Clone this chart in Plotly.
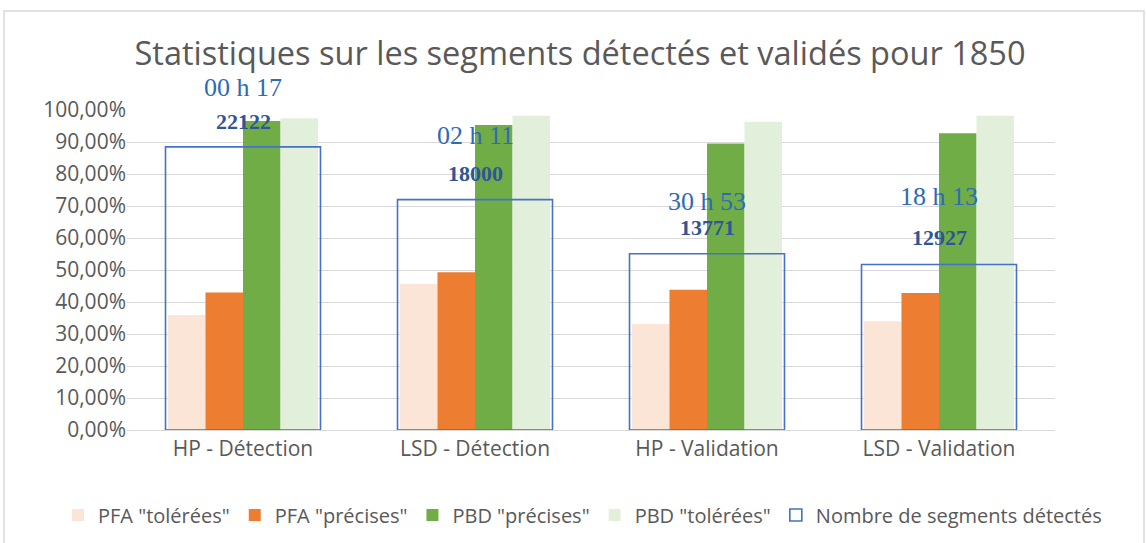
import plotly.graph_objects as go

categories = ["HP - Détection", "LSD - Détection", "HP - Validation", "LSD - Validation"]
pfa_tolerees = [0.359, 0.457, 0.331, 0.340]
pfa_precises = [0.430, 0.493, 0.438, 0.428]
pbd_precises = [0.966, 0.953, 0.895, 0.927]
pbd_tolerees = [0.974, 0.982, 0.963, 0.982]
nb_segments = [22122, 18000, 13771, 12927]
durees = ["00 h 17", "02 h 11", "30 h 53", "18 h 13"]

# label offsets (pixels above the box top)
count_shift = [25, 26, 26, 27]
time_shift = [59, 64, 52, 68]

W, H = 1146, 543
L, R, T, B = 127, 91, 110, 113
PW, PH = W - L - R, H - T - B

fig = go.Figure()
series = [
    ('PFA "tolérées"', pfa_tolerees, "#FBE5D6"),
    ('PFA "précises"', pfa_precises, "#ED7D31"),
    ('PBD "précises"', pbd_precises, "#70AD47"),
    ('PBD "tolérées"', pbd_tolerees, "#E2EFDA"),
]
for name, vals, col in series:
    fig.add_trace(go.Bar(x=categories, y=vals, name=name, marker_color=col,
                         marker_line_width=0, yaxis="y"))

fig.add_trace(go.Bar(x=categories, y=nb_segments, name="Nombre de segments détectés",
                     marker=dict(color="rgba(0,0,0,0)", line=dict(color="#4472C4", width=1.6)),
                     yaxis="y2", width=0.668, offset=-0.334))

annotations = []
for c, n, d, cs, ts in zip(categories, nb_segments, durees, count_shift, time_shift):
    annotations.append(dict(x=c, y=n, xref="x", yref="y2", yshift=cs, text="<b>%d</b>" % n,
                            showarrow=False, yanchor="middle",
                            font=dict(family="Liberation Serif", size=22, color="#2F5597")))
    annotations.append(dict(x=c, y=n, xref="x", yref="y2", yshift=ts, text=d,
                            showarrow=False, yanchor="middle",
                            font=dict(family="Liberation Serif", size=26, color="#2E6BB5")))

fig.update_layout(
    width=W, height=H,
    margin=dict(l=L, r=R, t=T, b=B, autoexpand=False),
    paper_bgcolor="white", plot_bgcolor="white",
    separators=", ",
    barmode="group", bargap=0.353, bargroupgap=0,
    title=dict(text="Statistiques sur les segments détectés et validés pour 1850",
               x=580 / W, xanchor="center", xref="container", y=1 - 54 / H, yanchor="middle",
               yref="container",
               font=dict(family="Open Sans", size=32.5, color="#595959")),
    font=dict(family="Open Sans", color="#595959"),
    xaxis=dict(showgrid=False, showline=True, linecolor="#D9D9D9", linewidth=1,
               tickfont=dict(size=21, color="#595959"), ticks=""),
    yaxis=dict(range=[0, 1], dtick=0.1, tickformat=".2%", showgrid=True,
               gridcolor="#D9D9D9", gridwidth=1, zeroline=False,
               tickfont=dict(size=21, color="#595959"), ticks=""),
    yaxis2=dict(range=[0, 25000], overlaying="y", side="right", visible=False,
                showgrid=False, zeroline=False),
    legend=dict(orientation="h", x=(58 - L) / PW, xanchor="left", xref="paper",
                y=-(515 - (T + PH)) / PH, yref="paper", yanchor="middle",
                font=dict(size=20, color="#595959"), traceorder="normal"),
    annotations=annotations,
    shapes=[dict(type="rect", xref="paper", yref="paper",
                 x0=(4 - L) / PW, x1=(1144 - L) / PW, y0=(T + PH - 548) / PH,
                 y1=(T + PH - 11) / PH,
                 line=dict(color="#D9D9D9", width=1.5), fillcolor="rgba(0,0,0,0)", layer="below")],
    showlegend=True,
)
fig.write_html("out.html", config={"displayModeBar": False},
               post_script="document.body.style.margin='0px';document.body.style.padding='0px';")
